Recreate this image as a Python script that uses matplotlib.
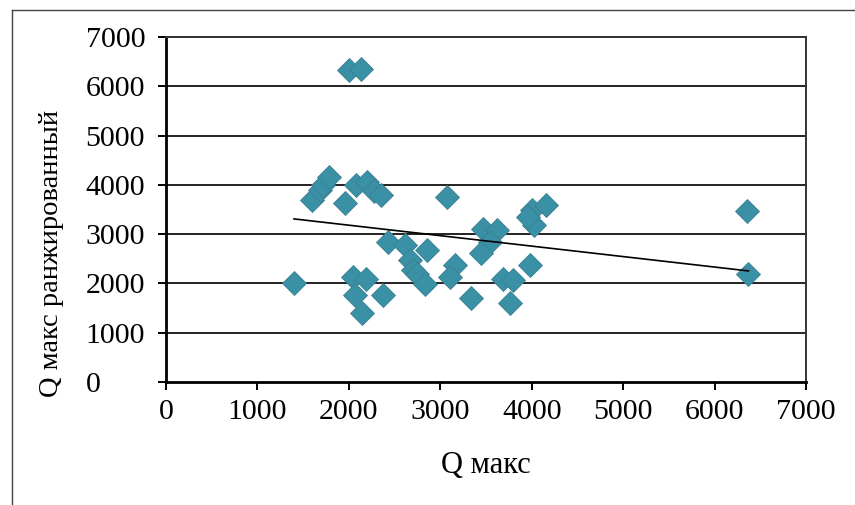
import numpy as np
import matplotlib
matplotlib.use("Agg")
import matplotlib.pyplot as plt
from matplotlib.lines import Line2D

# values
q_max = [1400, 1600, 1680, 1720, 1780, 1960, 2000, 2130, 2080, 2200,
         2280, 2350, 2050, 2190, 2065, 2370, 2140, 2430, 2610, 2670,
         2705, 2740, 2830, 2850, 3070, 3160, 3110, 3340, 3470, 3620,
         3540, 3450, 3690, 3800, 3760, 3980, 4000, 4160, 4020, 3960,
         6350, 6370]
q_ranked = [2015, 3700, 3900, 4000, 4150, 3630, 6330, 6350, 4000, 4050,
            3880, 3790, 2140, 2100, 1770, 1770, 1410, 2840, 2770, 2470,
            2270, 2200, 1980, 2680, 3760, 2370, 2140, 1700, 3110, 3080,
            2840, 2610, 2100, 2070, 1600, 2370, 3480, 3590, 3180, 3350,
            3460, 2200]
ticks = [0, 1000, 2000, 3000, 4000, 5000, 6000, 7000]

plt.rcParams['font.family'] = ['Liberation Serif', 'DejaVu Serif']

W, H = 855, 505
fig = plt.figure(figsize=(W / 100, H / 100), dpi=100)
ax = fig.add_axes([166 / W, 1 - 382 / H, 640 / W, 345 / H])

x = np.array(q_max, dtype=float)
y = np.array(q_ranked, dtype=float)

for t in ticks[1:]:
    ax.axhline(t, color='#222222', lw=1.4, zorder=1)

ax.plot(x, y, linestyle='none', marker='D', ms=11.8, mfc='#3A91A6',
        mec='#3A7F90', mew=0.6, zorder=3)

# linear trend over the data range
k, b = np.polyfit(x, y, 1)
xs = np.array([x.min(), x.max()])
ax.plot(xs, k * xs + b, color='black', lw=1.2, zorder=4)

ax.set_xlim(0, 7000)
ax.set_ylim(0, 7000)
ax.set_xticks(ticks)
ax.set_yticks(ticks)
ax.tick_params(direction='out', length=6, width=1.4, labelsize=21.5,
               color='black')
ax.tick_params(axis='x', pad=6)
# y labels are left-aligned, Excel style
ax.tick_params(axis='y', pad=(166 - 88 - 6) * 0.72)
for lab in ax.get_yticklabels():
    lab.set_horizontalalignment('left')
for s in ['left', 'bottom']:
    ax.spines[s].set_linewidth(2)
    ax.spines[s].set_color('black')
for s in ['top', 'right']:
    ax.spines[s].set_linewidth(1.4)
    ax.spines[s].set_color('#333333')

fig.text(52 / W, 1 - 253 / H, 'Q макс ранжированный', rotation=90,
         ha='center', va='center', fontsize=20.5)
fig.text(486 / W, 1 - 465 / H, 'Q макс', ha='center', va='center',
         fontsize=22)

# outer frame (cropped chart area border)
fig.add_artist(Line2D([12 / W, 1], [1 - 10 / H, 1 - 10 / H],
                      transform=fig.transFigure, color='#444444', lw=1))
fig.add_artist(Line2D([12 / W, 12 / W], [0, 1 - 10 / H],
                      transform=fig.transFigure, color='#444444', lw=1))

fig.savefig('out.png', dpi=100)
